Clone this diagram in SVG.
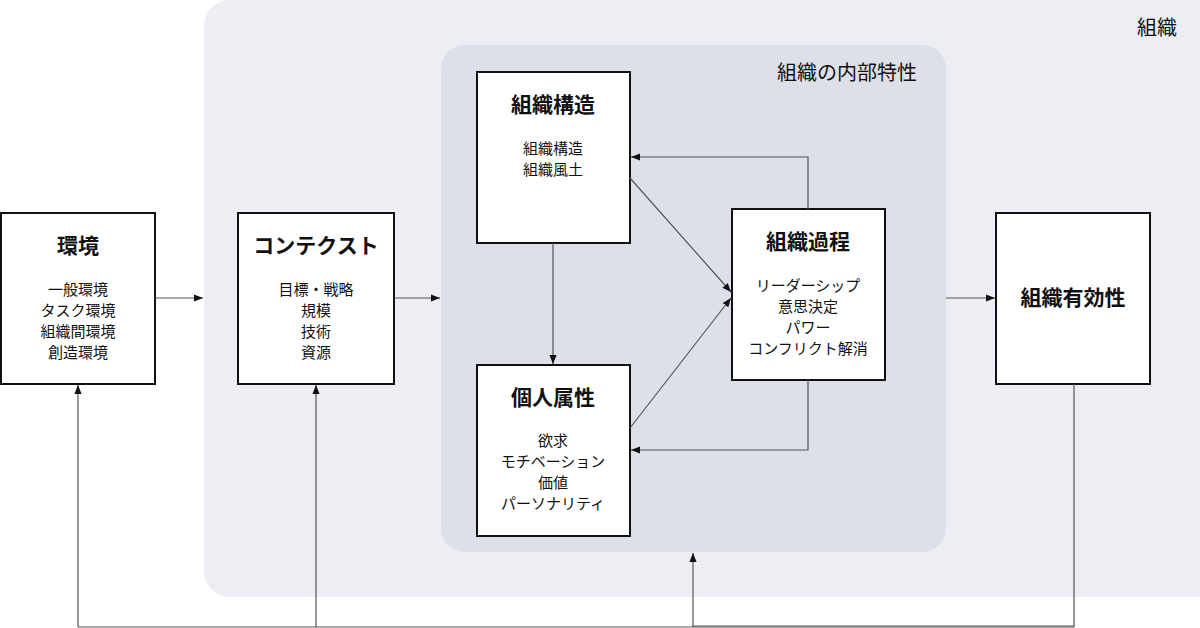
<svg xmlns="http://www.w3.org/2000/svg" width="1200" height="628" viewBox="0 0 1200 628">
<defs>
<marker id="ah" viewBox="0 0 10 10" refX="10" refY="5" markerWidth="9" markerHeight="9" markerUnits="userSpaceOnUse" orient="auto"><path d="M0,1 L10,5 L0,9 Z" fill="#111"/></marker>
<style>
.box{fill:#fff;stroke:#111;stroke-width:2}
.t{font-family:"Noto Sans CJK JP","Noto Sans",sans-serif;fill:#111;text-anchor:middle}
.h{font-size:21px;font-weight:bold}
.s{font-size:15px}
.c{fill:none;stroke:#555;stroke-width:1.2;marker-end:url(#ah)}
.l{fill:none;stroke:#555;stroke-width:1.2}
</style>
</defs>
<rect width="1200" height="628" fill="#fff"/>
<g id="org"><rect x="204" y="0" width="1020" height="597" rx="26" fill="#eceef3"/><text class="t" x="1157" y="35" font-size="20">組織</text></g>
<g id="internal"><rect x="441" y="45" width="505" height="507" rx="24" fill="#dde0e9"/><text class="t" x="847" y="80" font-size="20">組織の内部特性</text></g>
<g id="kankyo"><rect class="box" x="1" y="213" width="154" height="171"/><text class="t h" x="78" y="253">環境</text><text class="t s" x="78" y="295">一般環境</text><text class="t s" x="78" y="316">タスク環境</text><text class="t s" x="78" y="337">組織間環境</text><text class="t s" x="78" y="358">創造環境</text></g>
<g id="context"><rect class="box" x="238" y="213" width="156" height="171"/><text class="t h" x="316" y="253">コンテクスト</text><text class="t s" x="316" y="295">目標・戦略</text><text class="t s" x="316" y="316">規模</text><text class="t s" x="316" y="337">技術</text><text class="t s" x="316" y="358">資源</text></g>
<g id="kozo"><rect class="box" x="477" y="72" width="153" height="171"/><text class="t h" x="553" y="112">組織構造</text><text class="t s" x="553" y="154">組織構造</text><text class="t s" x="553" y="175">組織風土</text></g>
<g id="kojin"><rect class="box" x="477" y="365" width="153" height="171"/><text class="t h" x="553" y="405">個人属性</text><text class="t s" x="553" y="446">欲求</text><text class="t s" x="553" y="467">モチベーション</text><text class="t s" x="553" y="488">価値</text><text class="t s" x="553" y="509">パーソナリティ</text></g>
<g id="katei"><rect class="box" x="732" y="209" width="153" height="171"/><text class="t h" x="808" y="249">組織過程</text><text class="t s" x="808" y="291">リーダーシップ</text><text class="t s" x="808" y="312">意思決定</text><text class="t s" x="808" y="333">パワー</text><text class="t s" x="808" y="354">コンフリクト解消</text></g>
<g id="yuko"><rect class="box" x="996" y="213" width="154" height="171"/><text class="t h" x="1073" y="305">組織有効性</text></g>
<g id="connectors">
<line class="c" x1="155" y1="298" x2="203" y2="298"/>
<line class="c" x1="394" y1="298" x2="440" y2="298"/>
<line class="c" x1="946" y1="298" x2="995" y2="298"/>
<line class="c" x1="553" y1="243" x2="553" y2="364"/>
<line class="c" x1="630" y1="178" x2="731" y2="292"/>
<line class="c" x1="630" y1="428" x2="731" y2="298"/>
<polyline class="c" points="808,209 808,157 631,157"/>
<polyline class="c" points="808,380 808,450 631,450"/>
<polyline class="l" points="1074,384 1074,627 78,627"/>
<line class="l" x1="693" y1="626" x2="1074" y2="626"/>
<line class="c" x1="78" y1="627" x2="78" y2="385"/>
<line class="c" x1="316" y1="627" x2="316" y2="385"/>
<line class="c" x1="693" y1="627" x2="693" y2="553"/>
</g>
</svg>
